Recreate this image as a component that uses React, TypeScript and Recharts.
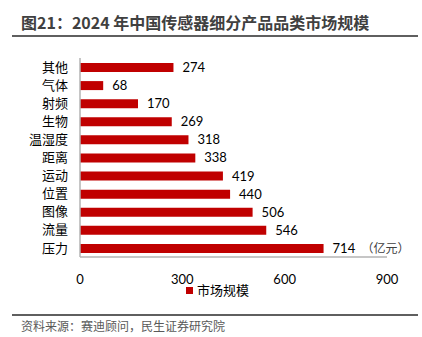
import React from "react"
import { Bar, BarChart, LabelList, XAxis, YAxis } from "recharts"

const categories = ["其他", "气体", "射频", "生物", "温湿度", "距离", "运动", "位置", "图像", "流量", "压力"]
const marketSize = [274, 68, 170, 269, 318, 338, 419, 440, 506, 546, 714]
const xTicks = [0, 300, 600, 900]

const data = categories.map((name, i) => ({ name, value: marketSize[i] }))

const RED = "#C00000"
const SANS = "Lato, 'Noto Sans CJK SC', sans-serif"
const CJK = "'Noto Sans CJK SC', sans-serif"

function ValueLabel(props: any) {
  const { x, y, width, height, value, index } = props
  const tx = x + width + 9
  const ty = y + height / 2
  return (
    <g>
      <text x={tx} y={ty} dy={4.5} fontSize={13} fontFamily={SANS} fill="#000">
        {value}
      </text>
      {index === data.length - 1 && (
        <text x={tx + 29} y={ty} dy={4.5} fontSize={12} fontFamily={CJK} fill="#404040">
          （亿元）
        </text>
      )}
    </g>
  )
}

export default function App() {
  return (
    <div style={{ position: "absolute", left: 0, top: 0, width: 422, height: 337, background: "#fff", overflow: "hidden" }}>
      <div
        style={{
          position: "absolute",
          left: 21,
          top: 11,
          fontFamily: CJK,
          fontWeight: 700,
          fontSize: 16,
          color: "#404040",
          whiteSpace: "nowrap",
          lineHeight: "22px",
        }}
      >
        图21：2024 年中国传感器细分产品品类市场规模
      </div>
      <div style={{ position: "absolute", left: 12, top: 35, width: 406, height: 2, background: "#5f5f5f" }} />

      <div style={{ position: "absolute", left: 0, top: 0 }}>
        <BarChart
          width={422}
          height={337}
          data={data}
          layout="vertical"
          margin={{ top: 58, right: 35, bottom: 50, left: 10 }}
          barSize={9}
        >
          <XAxis
            type="number"
            domain={[0, 900]}
            ticks={xTicks}
            height={30}
            axisLine={{ stroke: "#b3b3b3", strokeWidth: 1.5 }}
            tickLine={false}
            tickMargin={12}
            tick={{ fontSize: 13, fontFamily: SANS, fill: "#000" }}
          />
          <YAxis
            type="category"
            dataKey="name"
            width={70}
            interval={0}
            axisLine={{ stroke: "#b3b3b3", strokeWidth: 1.5 }}
            tickLine={false}
            tickMargin={6}
            tick={{ fontSize: 13, fontFamily: CJK, fill: "#000" }}
          />
          <Bar dataKey="value" fill={RED} isAnimationActive={false}>
            <LabelList dataKey="value" content={ValueLabel} />
          </Bar>
        </BarChart>
      </div>

      <div
        style={{
          position: "absolute",
          left: 186,
          top: 281,
          display: "flex",
          alignItems: "center",
          fontFamily: CJK,
          fontSize: 13,
          color: "#000",
          lineHeight: "18px",
        }}
      >
        <span style={{ width: 7, height: 7, background: RED, display: "inline-block", marginRight: 4 }} />
        市场规模
      </div>

      <div style={{ position: "absolute", left: 12, top: 314, width: 406, height: 2, background: "#5f5f5f" }} />
      <div
        style={{
          position: "absolute",
          left: 21,
          top: 317,
          fontFamily: CJK,
          fontSize: 12,
          color: "#595959",
          whiteSpace: "nowrap",
          lineHeight: "17px",
        }}
      >
        资料来源：赛迪顾问，民生证券研究院
      </div>
    </div>
  )
}
